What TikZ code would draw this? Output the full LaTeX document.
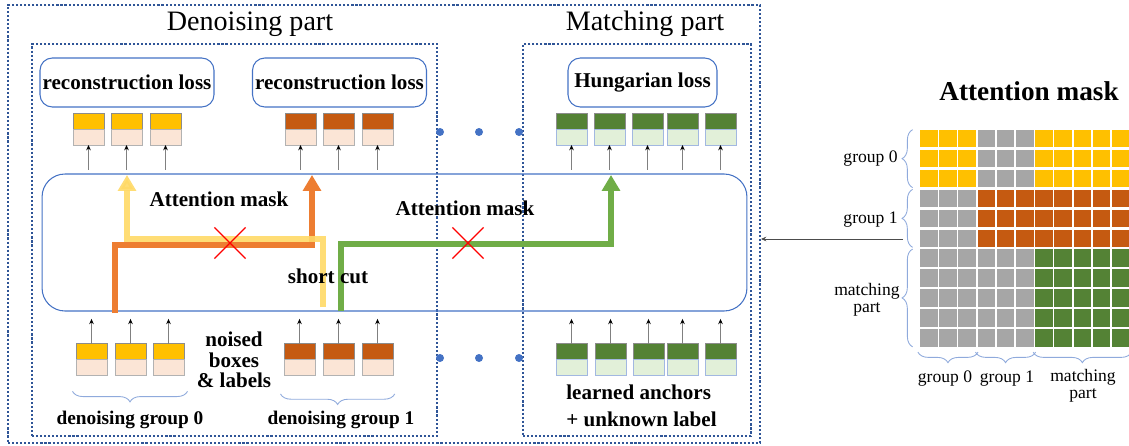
\documentclass[tikz,border=0pt]{standalone}
\usepackage{fontspec}
\setmainfont{Liberation Serif}
\usetikzlibrary{positioning,arrows.meta,shapes.misc,decorations.pathreplacing}

\definecolor{tokyellow}{HTML}{FFC000}
\definecolor{tokorange}{HTML}{C55A11}
\definecolor{tokgreen}{HTML}{548235}
\definecolor{peach}{HTML}{FBE5D6}
\definecolor{palegreen}{HTML}{E2F0D9}
\definecolor{maskgray}{HTML}{A6A6A6}
\definecolor{pathyellow}{HTML}{FFD966}
\definecolor{pathorange}{HTML}{ED7D31}
\definecolor{pathgreen}{HTML}{70AD47}
\definecolor{dotblue}{HTML}{2F5597}
\definecolor{boxblue}{HTML}{4472C4}
\definecolor{bracecol}{HTML}{8FAADC}

\tikzstyle{partbox} = [rectangle, draw=dotblue, line width=1.2pt, dash pattern=on 1.2pt off 1.1pt, inner sep=0pt]
\tikzstyle{parttitle} = [font=\fontsize{16}{19}\selectfont, inner sep=0pt]
\tikzstyle{lossbox} = [rectangle, rounded corners=7pt, draw=boxblue, line width=0.6pt, minimum width=3.48cm, minimum height=0.98cm, inner sep=0pt, font=\bfseries\fontsize{12}{14}\selectfont]
\tikzstyle{attnbox} = [rectangle, rounded corners=13pt, draw=boxblue, line width=0.6pt, minimum width=14.1cm, minimum height=2.74cm]
\tikzstyle{tokup} = [rectangle, minimum width=0.62cm, minimum height=0.32cm, inner sep=0pt, outer sep=0pt, draw=black!45, line width=0.4pt]
\tikzstyle{toklow} = [tokup, draw=black!30]
\tikzstyle{tinyarrow} = [draw=black!50, line width=0.5pt, -{Stealth[length=3pt,width=2.6pt,black]}]
\tikzstyle{flow} = [line width=3.2pt, -{Triangle[width=10pt,length=9pt]}]
\tikzstyle{cutmark} = [cross out, draw=red, line width=0.7pt, minimum size=0.6cm, inner sep=0pt]
\tikzstyle{seqdot} = [circle, fill=boxblue, minimum size=0.16cm, inner sep=0pt]
\tikzstyle{boldlabel} = [font=\bfseries\fontsize{12}{14}\selectfont, inner sep=0pt]
\tikzstyle{grpbrace} = [draw=bracecol, line width=0.5pt, decorate, decoration={brace, amplitude=6pt}]
\tikzstyle{maskcell} = [rectangle, minimum width=0.35cm, minimum height=0.35cm, inner sep=0pt]
\tikzstyle{masklabel} = [font=\fontsize{10}{9.5}\selectfont, align=center, inner sep=0pt]
\tikzstyle{maskarrow} = [draw=black!70, line width=0.5pt, -{Stealth[length=3pt,width=2.6pt]}]

\begin{document}
\begin{tikzpicture}[x=0.02cm, y=-0.02cm]
\useasboundingbox (0,0) rectangle (1129,446);

% Parts
\node (outer) [partbox, minimum width=15.04cm, minimum height=8.76cm] at (384,224) {};
\node (dnpart) [partbox, minimum width=8.1cm, minimum height=7.84cm] at (234.5,240) {};
\node (mtpart) [partbox, minimum width=4.56cm, minimum height=7.84cm] at (637,240) {};
\node (dntitle) [parttitle] at (250,24) {Denoising part};
\node (mttitle) [parttitle] at (645,24) {Matching part};

% Losses
\node (rec0) [lossbox] at (127,82.5) {reconstruction loss};
\node (rec1) [lossbox] at (339.5,82.5) {reconstruction loss};
\node (hung) [lossbox, minimum width=2.98cm] at (642.5,82.5) {Hungarian loss};

% Decoder
\node (attn) [attnbox] at (394.5,242.5) {};

% Output tokens
\foreach \x [count=\i] in {73,111,150} {
  \node (ot0\i) [tokup, fill=tokyellow] at (\x+15.5,121) {};
  \node (otl0\i) [toklow, fill=peach, below=0pt of ot0\i] {};
  \draw [tinyarrow] ([yshift=-14pt]otl0\i.south) -- (otl0\i.south);
}
\foreach \x [count=\i] in {285,323,362} {
  \node (ot1\i) [tokup, fill=tokorange] at (\x+15.5,121) {};
  \node (otl1\i) [toklow, fill=peach, below=0pt of ot1\i] {};
  \draw [tinyarrow] ([yshift=-14pt]otl1\i.south) -- (otl1\i.south);
}
\foreach \x [count=\i] in {556,594,632,667,705} {
  \node (otm\i) [tokup, fill=tokgreen] at (\x+15.5,121) {};
  \node (otlm\i) [toklow, draw=boxblue!50, fill=palegreen, below=0pt of otm\i] {};
  \draw [tinyarrow] ([yshift=-14pt]otlm\i.south) -- (otlm\i.south);
}

% Input tokens
\foreach \x [count=\i] in {76,115,153} {
  \node (it0\i) [tokup, fill=tokyellow] at (\x+15.5,351.5) {};
  \node (itl0\i) [toklow, fill=peach, below=0pt of it0\i] {};
  \draw [tinyarrow] (it0\i.north) -- ([yshift=14pt]it0\i.north);
}
\foreach \x [count=\i] in {284,323,362} {
  \node (it1\i) [tokup, fill=tokorange] at (\x+15.5,351.5) {};
  \node (itl1\i) [toklow, fill=peach, below=0pt of it1\i] {};
  \draw [tinyarrow] (it1\i.north) -- ([yshift=14pt]it1\i.north);
}
\foreach \x [count=\i] in {556,595,633,667,705} {
  \node (itm\i) [tokup, fill=tokgreen] at (\x+15.5,351.5) {};
  \node (itlm\i) [toklow, draw=boxblue!50, fill=palegreen, below=0pt of itm\i] {};
  \draw [tinyarrow] (itm\i.north) -- ([yshift=14pt]itm\i.north);
}

% Dots
\foreach \x [count=\i] in {440,479,519} {
  \node (odot\i) [seqdot] at (\x,132) {};
  \node (idot\i) [seqdot] at (\x,358) {};
}

% Flows
\coordinate (os) at (115,313);
\coordinate (oe) at (312,175);
\coordinate (ys) at (323,307);
\coordinate (ye) at (127,175);
\coordinate (gs) at (341,311);
\coordinate (ge) at (611,175);
\draw [flow, pathorange] (os) -- ++(0,-68) -| (oe);
\draw [flow, pathyellow, opacity=0.9] (ys) -- ++(0,-68) -| (ye);
\draw [flow, pathgreen] (gs) -- ++(0,-67) -| (ge);
\node (cut0) [cutmark] at (230,243) {};
\node (cut1) [cutmark] at (468,243) {};

% Labels
\node (am0) [boldlabel] at (219,199) {Attention mask};
\node (am1) [boldlabel] at (465,208) {Attention mask};
\node (sc) [boldlabel] at (328,276) {short cut};
\node (noised) [boldlabel, align=center, font=\bfseries\fontsize{12}{11.6}\selectfont] at (234,360) {noised\\boxes\\\& labels};
\draw [grpbrace, decoration={mirror}] ([xshift=-2pt,yshift=-9pt]itl01.south west) -- ([xshift=2pt,yshift=-9pt]itl03.south east);
\draw [grpbrace, decoration={mirror}] ([xshift=-2pt,yshift=-10.5pt]itl11.south west) -- ([xshift=1pt,yshift=-10.5pt]itl13.south east);
\node (dg0) [boldlabel, font=\bfseries\fontsize{11}{13}\selectfont] at (130,420) {denoising group 0};
\node (dg1) [boldlabel, font=\bfseries\fontsize{11}{13}\selectfont] at (341,420) {denoising group 1};
\node (anch) [boldlabel, align=left, anchor=west, font=\bfseries\fontsize{12}{15.3}\selectfont] at (566,406) {learned anchors\\+ unknown label};

% Attention mask
\node (masktitle) [font=\bfseries\fontsize{15.5}{18}\selectfont, inner sep=0pt] at (1029,91) {Attention mask};
\foreach \rows/\cols/\col in {{0,1,2}/{0,1,2}/tokyellow, {0,1,2}/{3,4,5}/maskgray, {0,1,2}/{6,...,10}/tokyellow, {3,4,5}/{0,1,2}/maskgray, {3,4,5}/{3,...,10}/tokorange, {6,...,10}/{0,...,5}/maskgray, {6,...,10}/{6,...,10}/tokgreen}
  \foreach \r in \rows
    \foreach \c in \cols
      \node (m-\r-\c) [maskcell, fill=\col] at (928.75+19.2*\c, 138.75+19.9*\r) {};
\draw [grpbrace] ([xshift=-4pt]m-2-0.south west) -- ([xshift=-4pt]m-0-0.north west);
\draw [grpbrace] ([xshift=-4pt]m-5-0.south west) -- ([xshift=-4pt]m-3-0.north west);
\draw [grpbrace] ([xshift=-4pt]m-10-0.south west) -- ([xshift=-4pt]m-6-0.north west);
\draw [grpbrace, decoration={mirror}] ([xshift=-1pt,yshift=-3pt]m-10-0.south west) -- ([xshift=1pt,yshift=-3pt]m-10-2.south east);
\draw [grpbrace, decoration={mirror}] ([xshift=-1pt,yshift=-3pt]m-10-3.south west) -- ([xshift=1pt,yshift=-3pt]m-10-5.south east);
\draw [grpbrace, decoration={mirror}] ([xshift=-1pt,yshift=-3pt]m-10-6.south west) -- ([xshift=1pt,yshift=-3pt]m-10-10.south east);
\node (lg0) [masklabel, anchor=east] at (898,159) {group 0};
\node (lg1) [masklabel, anchor=east] at (898,220) {group 1};
\node (lgm) [masklabel, anchor=east] at (900,300) {matching\\part};
\node (bg0) [masklabel] at (945,379) {group 0};
\node (bg1) [masklabel] at (1007,379) {group 1};
\node (bgm) [masklabel] at (1083,386) {matching\\part};
\coordinate (maskin) at (903,239);
\draw [maskarrow] (maskin) -- (maskin -| outer.east);

\end{tikzpicture}
\end{document}
